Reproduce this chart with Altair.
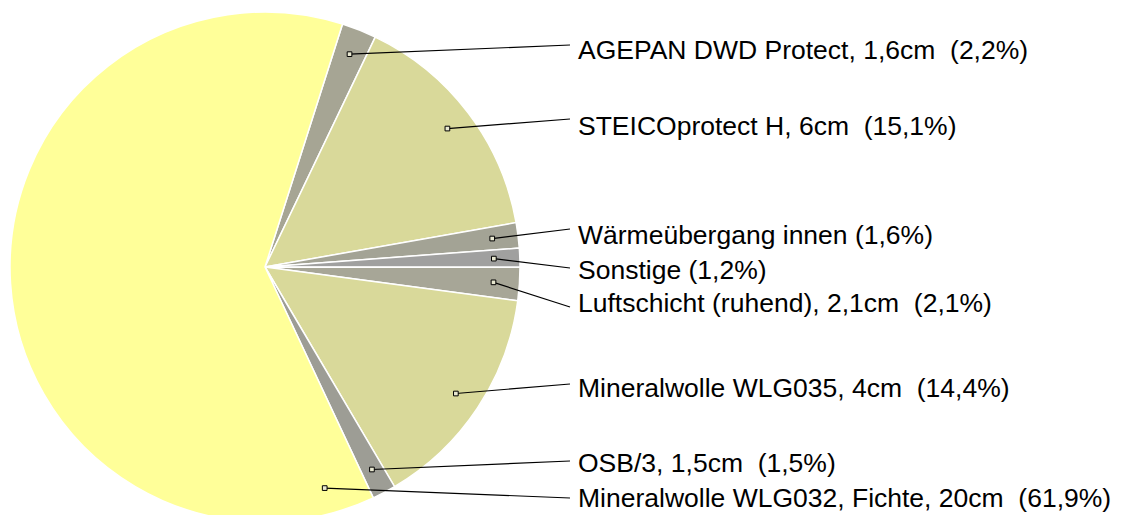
import math
import altair as alt
import pandas as pd

# ---- data ----
names = [
    "AGEPAN DWD Protect, 1,6cm",
    "STEICOprotect H, 6cm",
    "Wärmeübergang innen",
    "Sonstige",
    "Luftschicht (ruhend), 2,1cm",
    "Mineralwolle WLG035, 4cm",
    "OSB/3, 1,5cm",
    "Mineralwolle WLG032, Fichte, 20cm",
]
shares = [2.2, 15.1, 1.6, 1.2, 2.1, 14.4, 1.5, 61.9]
colors = ["#A6A594", "#D9D99A", "#A3A395", "#A0A09F", "#A7A697", "#D9D99A", "#9D9D95", "#FFFF99"]

# ---- layout ----
W, H = 1111, 507
CX, CY, R = 257, 259, 255
START_DEG = 17.7
MARK_R = 229
anchor_frac = [0.5, 0.5, 0.5, 0.5, 0.5, 0.5, 0.5, 0.045]
text_x = 570
line_end_x = 562
text_y = [42.5, 118.5, 228, 262.5, 296, 380.5, 456, 491]
line_end_y = [37, 111, 221, 260, 299, 376, 453, 490]


def fmt(v):
    return f"{v:.1f}".replace(".", ",")


total = sum(shares)
rows = []
cum = 0.0
for i, (n, s) in enumerate(zip(names, shares)):
    a0 = START_DEG + cum / total * 360
    a1 = START_DEG + (cum + s) / total * 360
    am = math.radians(a0 + (a1 - a0) * anchor_frac[i])
    cum += s
    sep = " \u00a0" if "cm" in n else " "
    rows.append(
        dict(
            idx=i,
            name=n,
            share=s,
            label=f"{n}{sep}({fmt(s)}%)",
            mx=CX + MARK_R * math.sin(am),
            my=CY - MARK_R * math.cos(am),
            lx=line_end_x,
            ly=line_end_y[i],
            tx=text_x,
            ty=text_y[i],
        )
    )
df = pd.DataFrame(rows)

t0 = math.radians(START_DEG)
base = alt.Chart(df)

arcs = base.mark_arc(radius=R, stroke="white", strokeWidth=1.5).encode(
    theta=alt.Theta("share:Q", stack=True, scale=alt.Scale(range=[t0, t0 + 2 * math.pi])),
    color=alt.Color("name:N", scale=alt.Scale(domain=names, range=colors), legend=None),
    order=alt.Order("idx:Q"),
    x=alt.value(CX),
    y=alt.value(CY),
)

rules = base.mark_rule(color="#000000", strokeWidth=1.2).encode(
    x=alt.X("mx:Q", scale=None, axis=None),
    y=alt.Y("my:Q", scale=None, axis=None),
    x2="lx:Q",
    y2="ly:Q",
)

markers = base.mark_point(shape="square", size=22, filled=True, fill="#E8E8D0",
                          stroke="#000000", strokeWidth=1, opacity=1).encode(
    x=alt.X("mx:Q", scale=None, axis=None),
    y=alt.Y("my:Q", scale=None, axis=None),
)

texts = base.mark_text(align="left", baseline="middle", font="Liberation Sans",
                       fontSize=26.5, color="#000000").encode(
    x=alt.X("tx:Q", scale=None, axis=None),
    y=alt.Y("ty:Q", scale=None, axis=None),
    text="label:N",
)

chart = (
    alt.layer(arcs, rules, markers, texts)
    .properties(width=W, height=H, autosize=alt.AutoSizeParams(type="none"), padding=0)
    .configure_view(stroke=None)
)

chart.save("out.html", embed_options={"renderer": "svg", "actions": False})
